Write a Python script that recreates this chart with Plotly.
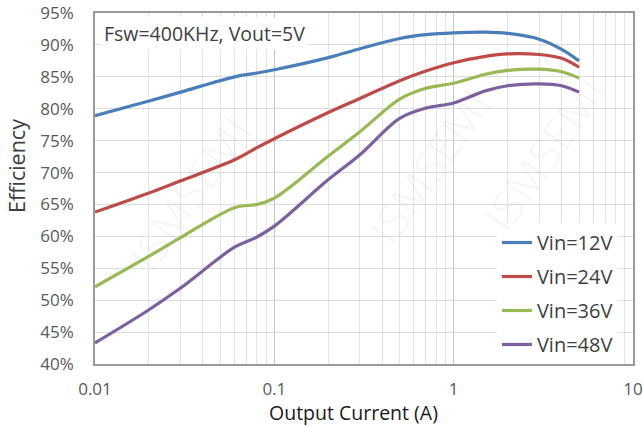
import plotly.graph_objects as go

current = [0.01, 0.02, 0.03, 0.06, 0.08, 0.1, 0.2, 0.3, 0.5, 0.7, 1, 1.5, 2, 3, 4, 5]
eff_12v = [78.9, 81.2, 82.6, 85.0, 85.6, 86.1, 88.0, 89.4, 91.0, 91.6, 91.9, 92.0, 91.8, 90.9, 89.3, 87.5]
eff_24v = [63.8, 66.8, 68.7, 72.0, 73.9, 75.3, 79.4, 81.6, 84.4, 85.9, 87.2, 88.2, 88.6, 88.5, 87.9, 86.5]
eff_36v = [52.1, 56.9, 59.8, 64.5, 65.0, 66.0, 72.6, 76.4, 81.5, 83.2, 84.0, 85.4, 86.0, 86.2, 85.8, 84.8]
eff_48v = [43.3, 48.5, 51.9, 58.3, 59.9, 61.6, 68.9, 72.8, 78.5, 80.1, 80.9, 82.8, 83.6, 83.9, 83.6, 82.6]

series_names = ["Vin=12V", "Vin=24V", "Vin=36V", "Vin=48V"]
series_values = [eff_12v, eff_24v, eff_36v, eff_48v]
colors = ["#4a7ebb", "#be4b48", "#98b954", "#7d60a0"]

y_ticks = [40, 45, 50, 55, 60, 65, 70, 75, 80, 85, 90, 95]
y_tick_labels = ["40%", "45%", "50%", "55%", "60%", "65%", "70%", "75%", "80%", "85%", "90%", "95%"]
x_ticks = [0.01, 0.1, 1, 10]
x_tick_labels = ["0.01", "0.1", "1", "10"]

FONT = "Open Sans"

fig = go.Figure()
for i, (name, vals, col) in enumerate(zip(series_names, series_values, colors)):
    fig.add_trace(go.Scatter(
        x=current, y=vals, name=name, mode="lines",
        line=dict(color=col, width=3.2, shape="spline", smoothing=1.0),
        legendgroup=f"g{i}",
    ))

fig.update_xaxes(
    type="log", range=[-2, 1], automargin=False,
    tickvals=x_ticks, ticktext=x_tick_labels,
    showgrid=True, gridcolor="#c4c4c4", gridwidth=1,
    minor=dict(showgrid=True, gridcolor="#e3e3e3", gridwidth=1,
               tickvals=[m * d for d in [0.01, 0.1, 1] for m in range(2, 10)]),
    showline=True, linecolor="#9a9a9a", linewidth=1.5, mirror=True,
    ticks="", zeroline=False, ticklabelstandoff=9,
    tickfont=dict(family=FONT, size=17, color="#595959"),
)
fig.update_yaxes(
    range=[40, 95], automargin=False, tickvals=y_ticks, ticktext=y_tick_labels,
    showgrid=True, gridcolor="#dcdcdc", gridwidth=1,
    showline=True, linecolor="#9a9a9a", linewidth=1.5, mirror=True,
    ticks="", zeroline=False, ticklabelstandoff=16,
    tickfont=dict(family=FONT, size=17, color="#595959"),
)

# axis titles
fig.add_annotation(
    xref="paper", yref="paper", x=0.4805, y=-0.139, xanchor="center", yanchor="middle",
    text="Output Current (A)", showarrow=False, borderpad=0,
    font=dict(family=FONT, size=19.5, color="#1a1a1a"),
)
fig.add_annotation(
    xref="paper", yref="paper", x=-0.147, y=0.564, xanchor="center", yanchor="middle",
    text="Efficiency", showarrow=False, textangle=-90,
    font=dict(family=FONT, size=21.5, color="#404040"),
)

fig.add_annotation(
    xref="paper", yref="paper", x=0.012, y=0.99, xanchor="left", yanchor="top",
    text="Fsw=400KHz, Vout=5V", showarrow=False,
    font=dict(family=FONT, size=19.5, color="#404040"),
    bgcolor="white", borderpad=2,
)

# faint watermark
for (wx, wy) in [(0.03, 0.75), (0.62, 0.3), (0.98, 0.6)]:
    fig.add_annotation(
        xref="paper", yref="paper", x=wx, y=wy, text="ISMSEMI", showarrow=False,
        textangle=-55, font=dict(family=FONT, size=44, color="rgba(0,0,0,0.03)"),
    )

fig.update_layout(
    width=643, height=427,
    margin=dict(l=95, r=10, t=13, b=63),
    paper_bgcolor="white", plot_bgcolor="white",
    showlegend=True,
    legend=dict(
        x=0.972, y=0.0, xanchor="right", yanchor="bottom",
        bgcolor="white", borderwidth=0, tracegroupgap=5,
        font=dict(family=FONT, size=20, color="#404040"),
    ),
)

fig.write_html("out.html")
